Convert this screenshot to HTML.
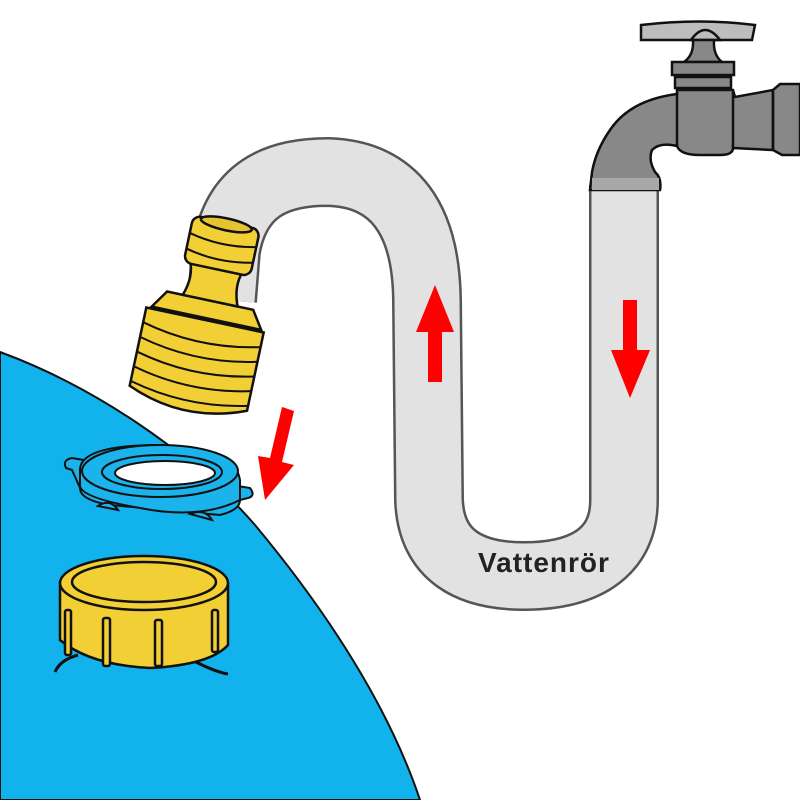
<!DOCTYPE html>
<html><head><style>html,body{margin:0;padding:0;background:#fff}svg{display:block}</style></head>
<body>
<svg width="800" height="800" viewBox="0 0 800 800" xmlns="http://www.w3.org/2000/svg">
<rect width="800" height="800" fill="#fff"/>
<!-- blue area -->
<path d="M0 352 C90 385 190 450 255 525 C330 615 390 710 420 800 L0 800 Z" fill="#12b3ec" stroke="#111" stroke-width="2"/>
<!-- hose -->
<path d="M222 300 L226 250 C236 190 275 172 328 172 C395 174 426 220 427 300 L429 500 C431 556 470 576 524 576 C580 576 624 556 624 500 L624 185" fill="none" stroke="#555" stroke-width="70" stroke-linecap="butt"/>
<path d="M222 300 L226 250 C236 190 275 172 328 172 C395 174 426 220 427 300 L429 500 C431 556 470 576 524 576 C580 576 624 556 624 500 L624 185" fill="none" stroke="#e2e2e2" stroke-width="65" stroke-linecap="butt"/>
<!-- faucet -->
<g stroke="#111" stroke-width="2.5">
<path d="M641 25 Q700 18 755 25 L752 40 L641 40 Z" fill="#bdbdbd"/>
<path d="M691 40 Q705 20 720 40 Z" fill="#bdbdbd"/>
<path d="M693 40 L714 40 Q713 55 722 62 L684 62 Q694 55 693 40 Z" fill="#888"/>
<rect x="672" y="62" width="62" height="13" fill="#888"/>
<rect x="675" y="77" width="56" height="11" fill="#888"/>
<path d="M677 94 Q630 100 610 130 Q596 150 592 172 L590 190 L660 190 Q662 178 655 172 Q648 160 652 150 Q660 142 677 146 Q680 155 700 155 L720 155 Q733 155 733 148 L773 150 L773 90 L735 97 L733 90 L677 90 Z" fill="#888"/>
<path d="M773 90 L780 84 L800 84 L800 155 L782 155 L773 150 Z" fill="#888"/>
<line x1="677" y1="92" x2="677" y2="146" />
<line x1="733" y1="92" x2="733" y2="150"/>
<line x1="773" y1="92" x2="773" y2="150"/>
</g>
<rect x="592" y="178" width="67" height="12" fill="#a8a8a8"/>
<!-- red arrows -->
<path d="M428 382 L428 332 L416 332 L435 285 L454 332 L442 332 L442 382 Z" fill="#f00"/>
<path d="M623 300 L637 300 L637 350 L650 350 L630 398 L611 350 L623 350 Z" fill="#f00"/>
<path d="M282 407 L294 411 L282 462 L294 465 L265 500 L258 456 L270 458 Z" fill="#f00"/>
<!-- brass fitting -->
<g transform="rotate(12 205 320)" stroke="#111" stroke-width="2.5" fill="#f2cf35">
<path d="M145 320 L265 320 L265 400 Q205 425 145 400 Z"/>
<path d="M145 335 Q205 350 265 335 M145 350 Q205 365 265 350 M145 365 Q205 380 265 365 M145 380 Q205 395 265 380 M145 395 Q205 410 265 395" fill="none" stroke-width="2"/>
<path d="M150 318 L162 300 L250 300 L262 318 Z"/>
<path d="M178 300 Q185 280 178 265 L232 265 Q226 280 234 300 Z"/>
<rect x="172" y="220" width="68" height="48" rx="8"/>
<path d="M172 238 Q206 246 240 238 M172 254 Q206 262 240 254" fill="none" stroke-width="2"/>
<ellipse cx="206" cy="222" rx="26" ry="6" fill="#e8c330"/>
</g>
<!-- gasket -->
<g stroke="#111" stroke-width="2" fill="#1ab3ec">
<path d="M72 470 L66 468 Q62 460 72 458 L250 488 Q256 496 248 498 L240 500 Q240 510 220 515 L110 505 Q80 500 80 488 Z"/>
<path d="M80 470 Q80 445 160 445 Q235 447 240 480 L240 500 Q200 520 140 508 Q82 498 80 486 Z"/>
<ellipse cx="160" cy="471" rx="78" ry="26"/>
<ellipse cx="162" cy="472" rx="60" ry="17"/>
<ellipse cx="165" cy="473" rx="50" ry="12" fill="#fff"/>
<path d="M98 506 Q110 498 118 510 Z M190 514 Q205 508 212 520 Z"/>
</g>
<!-- cap -->
<g stroke="#111" stroke-width="2.5" fill="#f2cf35">
<path d="M55 672 Q60 660 78 655 M192 660 Q215 672 228 674" fill="none" stroke-width="3"/>
<path d="M60 582 L60 640 Q90 665 150 668 Q210 665 228 645 L228 585 Z"/>
<ellipse cx="144" cy="583" rx="84" ry="27"/>
<ellipse cx="144" cy="582" rx="72" ry="20" fill="none"/>
<rect x="65" y="610" width="6" height="45" rx="2"/>
<rect x="103" y="618" width="7" height="48" rx="2"/>
<rect x="155" y="620" width="7" height="46" rx="2"/>
<rect x="212" y="610" width="6" height="42" rx="2"/>
</g>
<text x="478" y="572" font-family="Liberation Sans, sans-serif" font-weight="bold" font-size="28" letter-spacing="1" fill="#222">Vattenrör</text>
</svg>
</body></html>
